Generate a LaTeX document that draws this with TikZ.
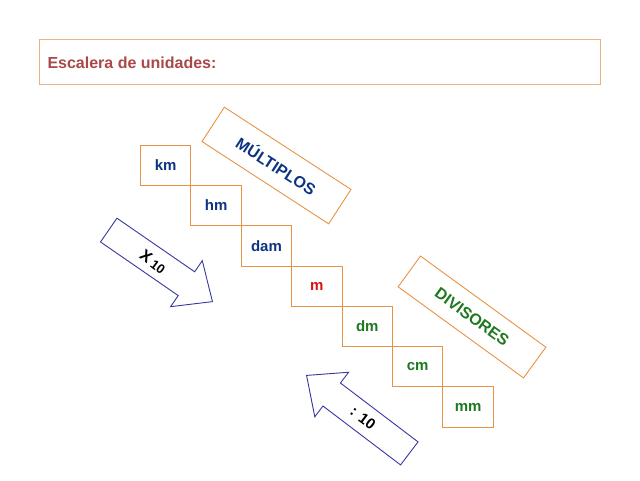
\documentclass[tikz,border=0pt]{standalone}
\usepackage{fontspec}
\setmainfont{Liberation Sans}
\usetikzlibrary{shapes.arrows}
\definecolor{boxor}{RGB}{232,146,70}
\definecolor{titleor}{RGB}{233,178,130}
\definecolor{titlered}{RGB}{170,72,72}
\definecolor{ublue}{RGB}{12,52,130}
\definecolor{ured}{RGB}{215,20,20}
\definecolor{ugreen}{RGB}{30,120,30}
\definecolor{arrblue}{RGB}{55,55,160}
\tikzset{
  stair/.style={draw=boxor, line width=0.9pt, minimum width=50.4pt, minimum height=40.3pt, inner sep=0pt, font=\fontsize{15}{18}\selectfont\bfseries},
  tag/.style={draw=boxor, line width=0.9pt, inner sep=0pt, font=\fontsize{16}{19}\selectfont\bfseries},
  bigarrow/.style={single arrow, draw=arrblue, line width=0.9pt, inner sep=0pt, inner ysep=14pt, single arrow head extend=13.5pt, single arrow tip angle=83, shape border uses incircle=false},
  arrtext/.style={font=\bfseries, text=black}
}
\begin{document}
\begin{tikzpicture}[x=1pt,y=-1pt]
\useasboundingbox (0,0) rectangle (640,480);
% title
\node[draw=titleor, line width=0.9pt, minimum width=561pt, minimum height=45pt, inner sep=0pt] (title) at (319.6,61.8) {};
\node[anchor=west, text=titlered, font=\fontsize{16}{19}\selectfont\bfseries, inner sep=0pt] (titletext) at (47.3,63) {Escalera de unidades:};
% stairs
\node[stair, text=ublue] (km) at (165.7,165.2) {km};
\node[stair, text=ublue] (hm) at (216.1,205.5) {hm};
\node[stair, text=ublue] (dam) at (266.5,245.8) {dam};
\node[stair, text=ured] (m) at (316.9,286.1) {m};
\node[stair, text=ugreen] (dm) at (367.3,326.4) {dm};
\node[stair, text=ugreen] (cm) at (417.7,366.7) {cm};
\node[stair, text=ugreen] (mm) at (468.1,407) {mm};
% tags
\node[tag, text=ublue, rotate=-33, minimum width=151pt, minimum height=41pt] (mult) at (276.5,165.5) {MÚLTIPLOS};
\node[tag, text=ugreen, rotate=-36, minimum width=155pt, minimum height=38pt] (div) at (472,317) {DIVISORES};
% arrows
\node[bigarrow, rotate=-34.6, minimum height=126pt, anchor=tip] (arrA) at (213,302) {};
\node[bigarrow, rotate=142.8, minimum height=129pt, anchor=tip] (arrB) at (306,375) {};
\node[arrtext, rotate=-37] (xten) at (153,262) {{\fontsize{16}{19}\selectfont X} {\fontsize{13}{15}\selectfont 10}};
\node[arrtext, rotate=-37, font=\fontsize{15}{18}\selectfont\bfseries] (divten) at (363,418) {: 10};
\end{tikzpicture}
\end{document}
